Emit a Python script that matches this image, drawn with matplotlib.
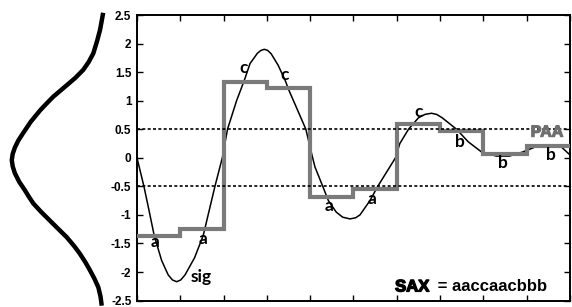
import matplotlib.pyplot as plt
import matplotlib.patheffects as pe

# time series (segment units 0..10)
sig_t = [0.00, 0.16, 0.28, 0.40, 0.57, 0.72, 0.82, 0.915, 1.01, 1.11, 1.33, 1.53, 1.80, 1.97,
         2.09, 2.30, 2.48, 2.61, 2.78, 2.86, 2.94, 3.02, 3.10, 3.26, 3.42, 3.51, 3.70, 3.90,
         4.05, 4.11, 4.29, 4.42, 4.60, 4.75, 4.92, 5.05, 5.15, 5.38, 5.56, 5.97, 6.07, 6.27,
         6.50, 6.65, 6.80, 6.92, 7.05, 7.38, 7.65, 7.96, 8.30, 8.60, 8.90, 9.20, 9.50, 9.80, 10.0]
sig_v = [0.00, -0.50, -0.93, -1.37, -1.80, -2.05, -2.14, -2.17, -2.14, -2.05, -1.75, -1.36, -0.50, 0.00,
         0.50, 1.00, 1.36, 1.65, 1.83, 1.88, 1.90, 1.88, 1.82, 1.62, 1.36, 1.18, 0.85, 0.50,
         0.02, -0.16, -0.50, -0.75, -0.95, -1.04, -1.07, -1.05, -1.00, -0.75, -0.50, 0.00, 0.25, 0.50,
         0.70, 0.76, 0.78, 0.76, 0.70, 0.50, 0.28, 0.10, 0.03, 0.03, 0.10, 0.19, 0.22, 0.19, 0.05]

# PAA segment means and SAX letters
paa_edges = [0, 1, 2, 3, 4, 5, 6, 7, 8, 9, 10]
paa_vals = [-1.37, -1.25, 1.33, 1.22, -0.68, -0.55, 0.60, 0.47, 0.07, 0.21]
breakpoints = [-0.5, 0.5]

# letter labels: (x, y, letter)
letters = [(0.42, -1.47, 'a'), (1.53, -1.42, 'a'), (2.45, 1.57, 'c'), (3.40, 1.45, 'c'),
           (4.43, -0.85, 'a'), (5.42, -0.73, 'a'), (6.50, 0.80, 'c'), (7.45, 0.27, 'b'),
           (8.45, -0.09, 'b'), (9.55, 0.05, 'b')]

# gaussian on the left: y value vs density
gauss_y = [2.54, 2.40, 2.24, 2.05, 1.83, 1.68, 1.54, 1.40, 1.27, 1.17, 1.07, 0.95, 0.83,
           0.63, 0.43, 0.30, 0.18, 0.07, -0.04, -0.15, -0.27, -0.42, -0.57, -0.68, -0.80,
           -0.95, -1.10, -1.25, -1.39, -1.54, -1.68, -1.83, -1.97, -2.12, -2.27, -2.43, -2.59]
gauss_d = [0.020, 0.026, 0.033, 0.045, 0.061, 0.080, 0.103, 0.136, 0.172, 0.200, 0.228,
           0.256, 0.283, 0.322, 0.354, 0.374, 0.388, 0.397, 0.401, 0.397, 0.388, 0.370,
           0.346, 0.330, 0.311, 0.278, 0.242, 0.206, 0.172, 0.142, 0.117, 0.094, 0.075,
           0.056, 0.040, 0.031, 0.026]

fig = plt.figure(figsize=(5.72, 3.07), dpi=100)

# left gaussian panel
axg = fig.add_axes([0.0, 0.021, 0.2395, 0.930])
axg.plot(gauss_d, gauss_y, color='black', lw=3.2, clip_on=False,
         solid_capstyle='butt', solid_joinstyle='round')
axg.set_xlim(0.45, -0.121)
axg.set_ylim(-2.5, 2.5)
axg.axis('off')

# main panel
ax = fig.add_axes([0.2395, 0.021, 0.757, 0.930])
ax.plot(sig_t, sig_v, color='black', lw=1.1, zorder=2, solid_joinstyle='round')
ax.stairs(paa_vals, paa_edges, baseline=None, color='#7a7a7a', lw=3.0, zorder=3)
for b in breakpoints:
    ax.axhline(b, color='black', lw=1.2, ls=(0, (1.8, 1.4)), zorder=4)

for x, y, s in letters:
    ax.text(x, y, s, fontsize=12.5, fontweight='bold', family='Lato',
            ha='center', va='center', zorder=5)

ax.text(1.49, -2.08, 'sig', fontsize=12.5, fontweight='bold', family='Lato',
        ha='center', va='center')
p = ax.text(9.47, 0.45, 'PAA', fontsize=11.5, fontweight='bold', family='Liberation Sans',
            color='#6e6e6e', ha='center', va='center', zorder=6)
p.set_path_effects([pe.withStroke(linewidth=0.9, foreground='#6e6e6e')])

t = ax.text(5.96, -2.34, 'SAX', fontsize=12, fontweight='bold', family='Liberation Sans',
            ha='left', va='baseline')
t.set_path_effects([pe.withStroke(linewidth=1.0, foreground='black')])
fig.canvas.draw()
bb = t.get_window_extent()
xr = ax.transData.inverted().transform((bb.x1, bb.y0))[0]
ax.text(xr, -2.34, ' = aaccaacbbb', fontsize=12, fontweight='bold',
        family='Liberation Sans', ha='left', va='baseline')

ax.set_xlim(0, 10)
ax.set_ylim(-2.5, 2.5)
ax.set_xticks(range(0, 11))
ax.set_xticklabels([])
ax.set_yticks([-2.5, -2, -1.5, -1, -0.5, 0, 0.5, 1, 1.5, 2, 2.5])
ax.set_yticklabels(['-2.5', '-2', '-1.5', '-1', '-0.5', '0', '0.5', '1', '1.5', '2', '2.5'])
ax.tick_params(direction='in', length=4, width=1.0, top=True, right=True,
               labelsize=8.5, pad=4)
for lab in ax.get_yticklabels():
    lab.set_fontweight('bold')
    lab.set_family('Liberation Sans')
for sp in ax.spines.values():
    sp.set_linewidth(1.4)

fig.savefig('out.png', dpi=100)
